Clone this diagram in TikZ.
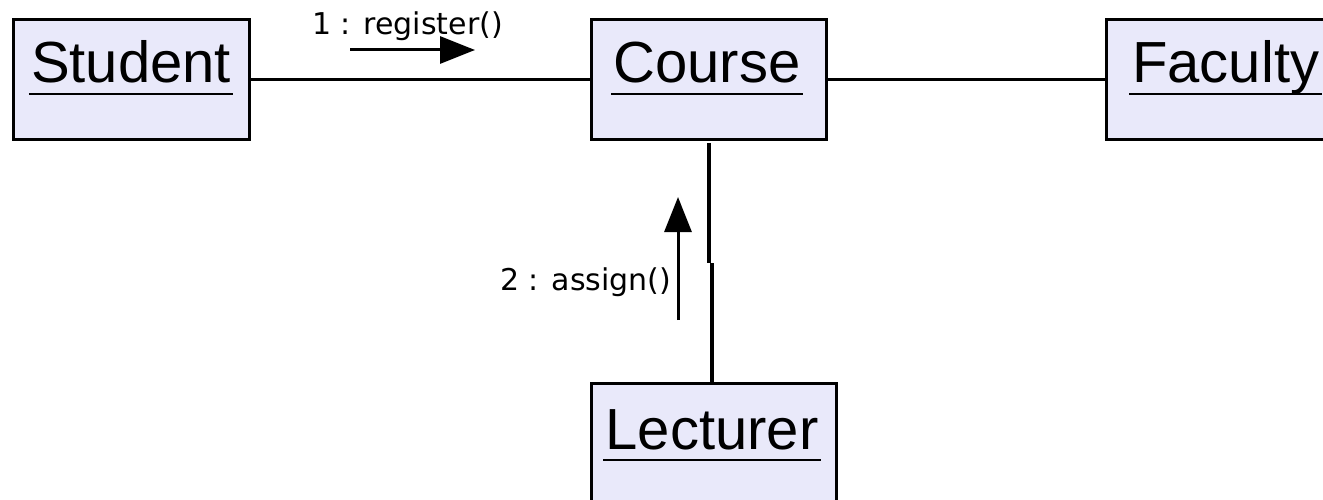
\documentclass[tikz,border=0pt]{standalone}
\usepackage{fontspec}
\setmainfont{Liberation Sans}
\newfontfamily\labelfont{DejaVu Sans}
\usetikzlibrary{arrows.meta}
\definecolor{boxfill}{RGB}{233,233,250}
\begin{document}
\begin{tikzpicture}[x=1pt,y=-1pt,
  objbox/.style={draw=black, line width=3.4pt, fill=boxfill, rectangle, inner sep=0pt, anchor=north west},
  objname/.style={font=\fontsize{58}{60}\selectfont, inner sep=0pt, anchor=base},
  uline/.style={line width=2.8pt},
  assoc/.style={line width=3.2pt},
  msgarrow/.style={line width=3pt, -{Triangle[length=35pt,width=27pt]}},
  msglabel/.style={font=\labelfont\fontsize{30}{32}\selectfont, inner sep=0pt, anchor=base west}]
\useasboundingbox (0,0) rectangle (1323,500);

% object boxes
\node[objbox, minimum width=236pt, minimum height=120pt] (student) at (12,18) {};
\node[objbox, minimum width=235pt, minimum height=120pt] (course) at (590,18) {};
\node[objbox, minimum width=260pt, minimum height=120pt] (faculty) at (1105,18) {};
\node[objbox, minimum width=245pt, minimum height=150pt] (lecturer) at (590,382) {};

% object names
\node[objname] (studentname) at (131,83) {Student};
\node[objname] (coursename) at (707,83) {Course};
\node[objname, anchor=base west] (facultyname) at (1132,83) {Faculty};
\node[objname] (lecturername) at (712,449) {Lecturer};

\foreach \n in {studentname,coursename,lecturername}{
  \draw[uline] ([yshift=-11pt,xshift=-2pt]\n.base west) -- ([yshift=-11pt,xshift=2pt]\n.base east);
}
\draw[uline] ([yshift=-11pt,xshift=-3pt]facultyname.base west) -- ([yshift=-11pt,xshift=3pt]facultyname.base east);

% links
\draw[assoc] (student.east) -- (course.west);
\draw[assoc] (course.east) -- (faculty.west);
\coordinate (v1) at (709,143);
\coordinate (v2) at (709,263);
\coordinate (v3) at (712,263);
\draw[assoc] (v1) -- (v2);
\draw[assoc] (v3) -- (v3 |- lecturer.north);

% messages
\coordinate (m1s) at (350,50);
\coordinate (m1e) at (475,50);
\draw[msgarrow] (m1s) -- (m1e);
\node[msglabel] (l1) at (312,35) {1 : register()};

\coordinate (m2s) at (678,320);
\coordinate (m2e) at (678,197);
\draw[msgarrow] (m2s) -- (m2e);
\node[msglabel] (l2) at (500,290) {2 : assign()};
\end{tikzpicture}
\end{document}
